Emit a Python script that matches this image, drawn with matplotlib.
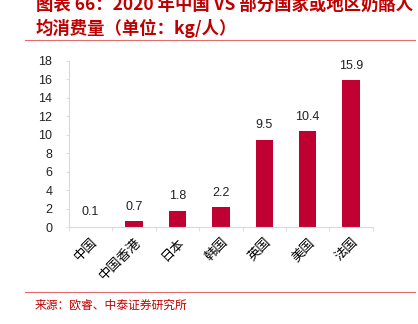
import numpy as np
import matplotlib.pyplot as plt
from matplotlib.lines import Line2D

plt.rcParams['font.family'] = ['Liberation Sans', 'Noto Sans CJK SC', 'DejaVu Sans']

regions = ["中国", "中国香港", "日本", "韩国", "英国", "美国", "法国"]
cheese_kg = [0.1, 0.7, 1.8, 2.2, 9.5, 10.4, 15.9]
y_ticks = [0, 2, 4, 6, 8, 10, 12, 14, 16, 18]

title_text = "图表 66：2020 年中国 VS 部分国家或地区奶酪人\n均消费量（单位：kg/人）"
source_text = "来源：欧睿、中泰证券研究所"

BAR_RED = "#C00030"
TITLE_RED = "#C00000"
RULE_RED = "#E46C6C"
AXIS_GREY = "#D9D9D9"

fig = plt.figure(figsize=(4.18, 3.24), dpi=100)
ax = fig.add_axes([0.165, 0.298, 0.727, 0.514])

x = np.arange(len(regions))
bars = ax.bar(x, cheese_kg, width=0.4, color=BAR_RED)

for b, v in zip(bars, cheese_kg):
    ax.annotate(f"{v}", (b.get_x() + b.get_width() / 2, v),
                xytext=(0, 6), textcoords="offset points",
                ha="center", va="bottom", fontsize=9, color="#222222")

ax.set_xlim(-0.5, len(regions) - 0.5)
ax.set_ylim(0, 18)
ax.set_yticks(y_ticks)
ax.tick_params(axis="y", length=2, width=0.6, color=AXIS_GREY, pad=10,
               labelsize=9, labelcolor="#222222")

ax.set_xticks(x)
ax.set_xticklabels(regions, rotation=45, ha="right", va="top",
                   rotation_mode="anchor", fontsize=9.5,
                   family=["Noto Sans CJK SC"])
ax.set_xticks(np.arange(-0.5, len(regions)), minor=True)
ax.tick_params(axis="x", which="major", length=0, pad=6)
ax.tick_params(axis="x", which="minor", length=3, width=0.6, color=AXIS_GREY)

for side in ("top", "right"):
    ax.spines[side].set_visible(False)
for side in ("left", "bottom"):
    ax.spines[side].set_color(AXIS_GREY)
    ax.spines[side].set_linewidth(0.8)

fig.text(36 / 418, 1 - 17 / 324, title_text, ha="left", va="center",
         fontsize=12.5, fontweight="bold", color=TITLE_RED,
         linespacing=1.35, family=["Noto Sans CJK SC"])

fig.add_artist(Line2D([25 / 418, 415 / 418], [1 - 40 / 324] * 2,
                      color=RULE_RED, linewidth=0.8))
fig.add_artist(Line2D([25 / 418, 415 / 418], [1 - 292 / 324] * 2,
                      color=RULE_RED, linewidth=0.8))

fig.text(35 / 418, 1 - 305 / 324, source_text, ha="left", va="center",
         fontsize=8.5, color=TITLE_RED, family=["Noto Sans CJK SC"])

fig.savefig("out.png", dpi=100)
